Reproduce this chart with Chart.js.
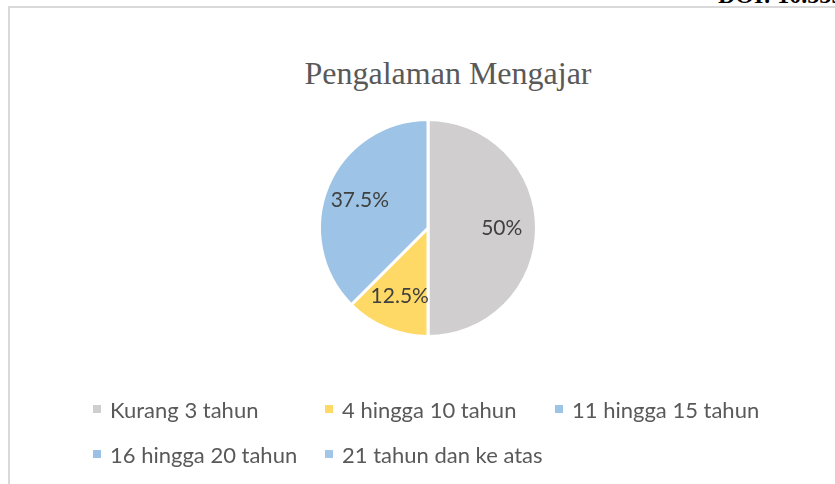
<!DOCTYPE html>
<html>
<head>
<meta charset="utf-8">
<script src="https://cdn.jsdelivr.net/npm/chart.js@4.4.1/dist/chart.umd.min.js"></script>
<style>
  html, body { margin: 0; padding: 0; width: 835px; height: 484px; overflow: hidden; background: #fff; }
  .doi { position: absolute; left: 718px; top: -18px; font: bold 24px "Liberation Serif", serif; color: #000; white-space: nowrap; }
  .frame { position: absolute; left: 8px; top: 6px; width: 900px; height: 500px; border: 2px solid #d9d9d9; box-sizing: border-box; }
  .title { position: absolute; left: 0; top: 55px; width: 896px; text-align: center; line-height: 32px;
    font: 32px "Liberation Serif", serif; color: #595959; }
  .wrap { position: absolute; left: 8px; top: 0; width: 880px; height: 484px; }
  .legend { position: absolute; left: 93px; top: 396px; display: grid; grid-template-columns: 232px 230px 240px; row-gap: 19px;
    font: 22px Lato, sans-serif; color: #595959; }
  .legend div { display: flex; align-items: center; height: 26px; white-space: nowrap; }
  .legend span { display: inline-block; width: 8px; height: 8px; margin-right: 9px; }
</style>
</head>
<body>
<div class="doi">DOI: 10.55927/</div>
<div class="frame"></div>
<div class="title" id="title"></div>
<div class="wrap"><canvas id="pie"></canvas></div>
<div class="legend" id="legend"></div>
<script>
"use strict";

const chartTitle = "Pengalaman Mengajar";
const categories = ["Kurang 3 tahun", "4 hingga 10 tahun", "11 hingga 15 tahun", "16 hingga 20 tahun", "21 tahun dan ke atas"];
const shares = [50, 12.5, 37.5, 0, 0];
const colors = ["#d0cece", "#ffd966", "#9dc3e6", "#9bc1e6", "#a3c6e8"];

document.getElementById("title").textContent = chartTitle;

// labels inside the slices, like the "best fit" labels of the original
const sliceLabels = {
  id: "sliceLabels",
  afterDatasetsDraw(chart) {
    const ctx = chart.ctx;
    const meta = chart.getDatasetMeta(0);
    ctx.save();
    ctx.font = "21px Lato, sans-serif";
    ctx.fillStyle = "#404040";
    ctx.textAlign = "center";
    ctx.textBaseline = "middle";
    meta.data.forEach((arc, i) => {
      if (!shares[i]) return;
      const { x, y, startAngle, endAngle, outerRadius } = arc.getProps(["x", "y", "startAngle", "endAngle", "outerRadius"], true);
      const mid = (startAngle + endAngle) / 2;
      const r = outerRadius * 0.68;
      ctx.fillText(shares[i] + "%", x + Math.cos(mid) * r, y + Math.sin(mid) * r);
    });
    ctx.restore();
  },
};

const chart = new Chart(document.getElementById("pie"), {
  type: "pie",
  data: {
    labels: categories,
    datasets: [{ data: shares, backgroundColor: colors, borderColor: "#fff", borderWidth: 3 }],
  },
  options: {
    responsive: true,
    maintainAspectRatio: false,
    animation: false,
    layout: { padding: { top: 118, right: 40, bottom: 146, left: 0 } },
    plugins: {
      legend: { display: false },
      tooltip: { enabled: false },
    },
  },
  plugins: [sliceLabels],
});

// legend in a fixed grid, as in the source figure
const legendEl = document.getElementById("legend");
categories.forEach((name, i) => {
  const item = document.createElement("div");
  item.innerHTML = `<span style="background:${colors[i]}"></span>${name}`;
  legendEl.appendChild(item);
});
</script>
</body>
</html>
